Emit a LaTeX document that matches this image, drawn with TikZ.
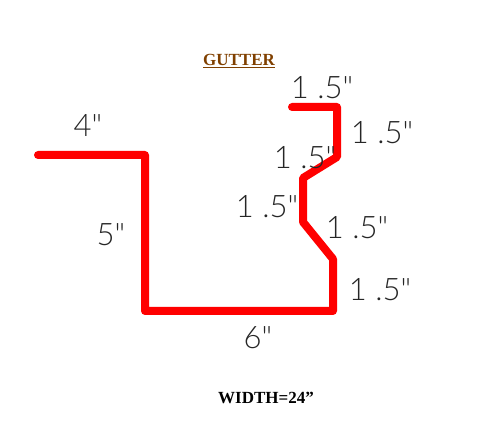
\documentclass[tikz,border=0pt]{standalone}
\usepackage{fontspec}
\setmainfont{Liberation Serif}
\newfontfamily\dimfont{Lato Light}
\tikzset{
    gutterline/.style={red, line width=8pt, line join=round, line cap=round},
    dimlabel/.style={inner sep=0pt, text=black!85, font=\dimfont\fontsize{31}{31}\selectfont},
    titlelabel/.style={inner sep=0pt, font=\bfseries\fontsize{17}{17}\selectfont}
}
\begin{document}
\begin{tikzpicture}[x=1pt, y=-1pt]
    \useasboundingbox (0,0) rectangle (493,427);

    % Profile of the gutter
    \draw[gutterline] (38,155) -- (145,155) -- (145,311) -- (333,311) -- (333,259)
        -- (303,222) -- (303,178) -- (337,157) -- (337,107) -- (292,107);

    % Lengths of the bends
    \node[dimlabel] (lipTop) at (322,88) {1 .5"};
    \node[dimlabel] (lipRight) at (382,133) {1 .5"};
    \node[dimlabel] (slantUpper) at (305,158) {1 .5"};
    \node[dimlabel] (backLeft) at (267,207) {1 .5"};
    \node[dimlabel] (slantLower) at (357,228) {1 .5"};
    \node[dimlabel] (frontRight) at (380,290) {1 .5"};
    \node[dimlabel] (flange) at (88,126) {4"};
    \node[dimlabel] (side) at (111,235) {5"};
    \node[dimlabel] (bottom) at (258,338) {6"};

    % Title and width
    \node[titlelabel, text={rgb,255:red,128;green,64;blue,0}] (title) at (239,61) {\underline{GUTTER}};
    \node[titlelabel] (width) at (266,398) {WIDTH=24”};
\end{tikzpicture}
\end{document}
